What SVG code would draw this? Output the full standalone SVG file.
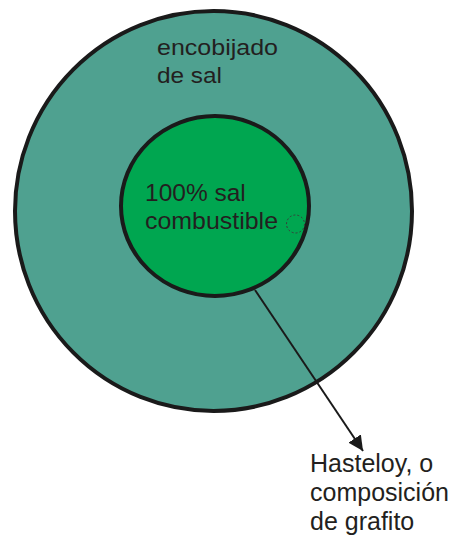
<svg xmlns="http://www.w3.org/2000/svg" width="456" height="538" viewBox="0 0 456 538">
<defs>
<marker id="arr" viewBox="0 0 10 10" refX="10" refY="5" markerWidth="15" markerHeight="15" markerUnits="userSpaceOnUse" orient="auto">
<path d="M0,0 L10,5 L0,10 z" fill="#1a1a1a"/>
</marker>
</defs>
<style>
.t{font-family:"Liberation Sans",Arial,sans-serif;fill:#231f20}
.ring{stroke:#1a1a1a;stroke-width:4}
</style>
<rect width="456" height="538" fill="#ffffff"/>
<g id="outer">
<ellipse class="ring" cx="213.5" cy="211" rx="198.5" ry="200" fill="#4fa190"/>
<text class="t" x="157" y="55" font-size="21.5" textLength="121" lengthAdjust="spacingAndGlyphs">encobijado</text>
<text class="t" x="157" y="83" font-size="21.5" textLength="65" lengthAdjust="spacingAndGlyphs">de sal</text>
</g>
<g id="inner">
<ellipse class="ring" cx="215" cy="206" rx="94" ry="90" fill="#00a650"/>
<text class="t" x="145" y="200.5" font-size="24.5">100% sal</text>
<text class="t" x="145" y="229" font-size="24.5" textLength="133" lengthAdjust="spacingAndGlyphs">combustible</text>
<circle cx="295.5" cy="224" r="9" fill="none" stroke="#3a3a3a" stroke-width="1" stroke-dasharray="2 2"/>
</g>
<g id="connectors">
<line x1="255" y1="290" x2="363" y2="451" stroke="#1a1a1a" stroke-width="2" marker-end="url(#arr)"/>
</g>
<g id="label">
<text class="t" x="310" y="472" font-size="25">Hasteloy, o</text>
<text class="t" x="310" y="501" font-size="25">composición</text>
<text class="t" x="310" y="530" font-size="25">de grafito</text>
</g>
</svg>
